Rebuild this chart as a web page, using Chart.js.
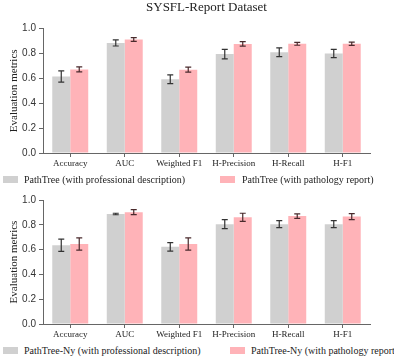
<!DOCTYPE html>
<html>
<head>
  <title>SYSFL-Report Dataset</title>
  <style>
    body { margin: 0; width: 394px; height: 358px; background: #fff; position: relative; overflow: hidden; }
    canvas { position: absolute; left: 0; }
    #top { top: 0; }
    #bottom { top: 182px; }
    .legend { position: absolute; font-family: 'Liberation Serif', 'Times New Roman', serif; font-size: 10px; color: #222; white-space: nowrap; line-height: 12px; }
    .box { position: absolute; width: 15px; height: 7px; }
  </style>
</head>
<body>

  <canvas id="top" width="394" height="170"></canvas>
  <canvas id="bottom" width="394" height="159"></canvas>

  <div class="box" style="left:3px; top:176px; background:#d0d0d0;"></div>
  <div class="legend" style="left:24px; top:174px;">PathTree (with professional description)</div>
  <div class="box" style="left:220px; top:176px; background:#ffb3b8;"></div>
  <div class="legend" style="left:242px; top:174px;">PathTree (with pathology report)</div>

  <div class="box" style="left:3px; top:347px; background:#d0d0d0;"></div>
  <div class="legend" style="left:24px; top:345px;">PathTree-Ny (with professional description)</div>
  <div class="box" style="left:230px; top:347px; background:#ffb3b8;"></div>
  <div class="legend" style="left:251px; top:345px;">PathTree-Ny (with pathology report)</div>

  <script src="https://cdn.jsdelivr.net/npm/chart.js"></script>
  <script>
    const metrics = ['Accuracy', 'AUC', 'Weighted F1', 'H-Precision', 'H-Recall', 'H-F1'];
    const yTicks = [0, 0.2, 0.4, 0.6, 0.8, 1.0];

    // SYSFL-Report, PathTree
    const profDesc = [0.615, 0.885, 0.593, 0.795, 0.810, 0.800];
    const profDescErr = [0.045, 0.025, 0.035, 0.038, 0.035, 0.033];
    const pathReport = [0.672, 0.912, 0.670, 0.877, 0.878, 0.878];
    const pathReportErr = [0.020, 0.015, 0.020, 0.018, 0.012, 0.013];

    // PathTree-Ny
    const nyProfDesc = [0.635, 0.887, 0.622, 0.805, 0.805, 0.805];
    const nyProfDescErr = [0.050, 0.006, 0.034, 0.036, 0.028, 0.028];
    const nyPathReport = [0.645, 0.902, 0.645, 0.860, 0.870, 0.866];
    const nyPathReportErr = [0.050, 0.020, 0.050, 0.033, 0.018, 0.024];

    const grayColor = '#d0d0d0';
    const pinkColor = '#ffb3b8';

    const errorBars = {
      id: 'errorBars',
      afterDatasetsDraw(chart) {
        const ctx = chart.ctx;
        const y = chart.scales.y;
        chart.data.datasets.forEach((ds, i) => {
          const meta = chart.getDatasetMeta(i);
          ctx.save();
          ctx.strokeStyle = ds.errColor;
          ctx.lineWidth = 1.2;
          meta.data.forEach((bar, j) => {
            const v = ds.data[j], e = ds.errors[j];
            const top = y.getPixelForValue(v + e);
            const bot = y.getPixelForValue(v - e);
            ctx.beginPath();
            ctx.moveTo(bar.x, top); ctx.lineTo(bar.x, bot);
            ctx.moveTo(bar.x - 3, top); ctx.lineTo(bar.x + 3, top);
            ctx.moveTo(bar.x - 3, bot); ctx.lineTo(bar.x + 3, bot);
            ctx.stroke();
          });
          ctx.restore();
        });
      }
    };

    function makeChart(id, gray, grayErr, pink, pinkErr, title, padTop) {
      const ctx = document.getElementById(id).getContext('2d');
      return new Chart(ctx, {
        type: 'bar',
        data: {
          labels: metrics,
          datasets: [
            { data: gray, errors: grayErr, errColor: '#333', backgroundColor: grayColor,
              categoryPercentage: 0.66, barPercentage: 1.0 },
            { data: pink, errors: pinkErr, errColor: '#4a2a2c', backgroundColor: pinkColor,
              categoryPercentage: 0.66, barPercentage: 1.0 }
          ]
        },
        options: {
          responsive: false,
          animation: false,
          layout: { padding: { left: 0, right: 24, top: padTop, bottom: 0 } },
          plugins: {
            legend: { display: false },
            tooltip: { enabled: false },
            title: {
              display: !!title,
              text: title,
              fullSize: false,
              color: '#222',
              font: { family: 'Liberation Serif', size: 13, weight: 'normal' },
              padding: { top: 0, bottom: 13 }
            }
          },
          scales: {
            x: {
              grid: { display: true, drawOnChartArea: false, offset: false, tickLength: 4, color: '#666' },
              border: { color: '#666', width: 1 },
              ticks: { color: '#222', padding: 1, maxRotation: 0,
                font: { family: 'Liberation Serif', size: 9 } },
              afterFit(scale) { scale.height = 17; }
            },
            y: {
              min: 0, max: 1,
              afterBuildTicks(scale) { scale.ticks = yTicks.map(v => ({ value: v })); },
              grid: { display: true, drawOnChartArea: false, tickLength: 4, color: '#666' },
              border: { color: '#666', width: 1 },
              ticks: { color: '#333', padding: 3,
                font: { family: 'Liberation Sans', size: 10 },
                callback: v => v.toFixed(1) },
              title: {
                display: true, text: 'Evaluation metrics', color: '#222',
                font: { family: 'Liberation Serif', size: 11 },
                padding: { top: 8, bottom: 0 }
              },
              afterFit(scale) { scale.width = 43; }
            }
          }
        },
        plugins: [errorBars]
      });
    }

    makeChart('top', profDesc, profDescErr, pathReport, pathReportErr, 'SYSFL-Report Dataset', 0);
    makeChart('bottom', nyProfDesc, nyProfDescErr, nyPathReport, nyPathReportErr, '', 18);
  </script>

</body>
</html>
